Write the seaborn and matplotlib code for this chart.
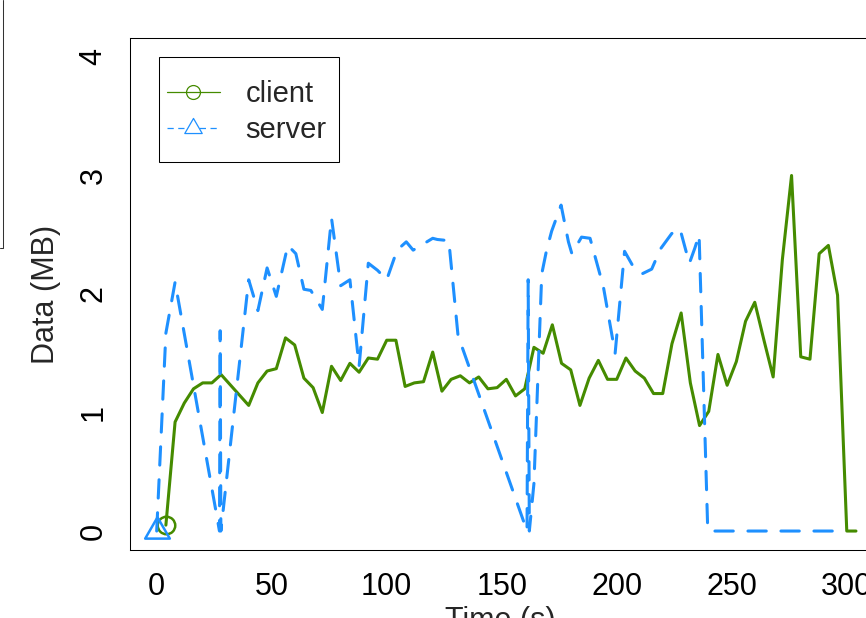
import matplotlib
matplotlib.use("Agg")
import matplotlib.pyplot as plt
from matplotlib.lines import Line2D
from matplotlib.patches import Rectangle
from matplotlib.path import Path
import pandas as pd
import seaborn as sns

# ---- data -------------------------------------------------------------
client_time = [4, 8, 12, 16, 20, 24, 28, 40, 44, 48, 52, 56, 60, 64, 68, 72,
               76, 80, 84, 88, 92, 96, 100, 104, 108, 112, 116, 120, 124, 128,
               132, 136, 140, 144, 148, 152, 156, 160, 164, 168, 172, 176, 180,
               184, 188, 192, 196, 200, 204, 208, 212, 216, 220, 224, 228, 232,
               236, 240, 244, 248, 252, 256, 260, 264, 268, 272, 276, 280, 284,
               288, 292, 296, 300, 304]
client_mb = [0.05, 0.92, 1.08, 1.20, 1.25, 1.25, 1.32, 1.06, 1.25, 1.35, 1.37,
             1.63, 1.57, 1.29, 1.21, 1.00, 1.39, 1.27, 1.415, 1.34, 1.46, 1.45,
             1.61, 1.61, 1.22, 1.25, 1.26, 1.51, 1.18, 1.28, 1.31, 1.25, 1.30,
             1.20, 1.21, 1.28, 1.14, 1.20, 1.55, 1.50, 1.74, 1.415, 1.36, 1.06,
             1.29, 1.44, 1.28, 1.28, 1.46, 1.35, 1.29, 1.16, 1.16, 1.58, 1.84,
             1.25, 0.89, 1.01, 1.49, 1.23, 1.43, 1.77, 1.93, 1.61, 1.30, 2.29,
             3.00, 1.47, 1.45, 2.34, 2.41, 1.99, 0.00, 0.00]

server_time = [0, 4, 8, 27.3, 27.6, 27.9, 40, 44, 48, 52, 57, 60.5, 64, 67, 72,
               76, 80, 84, 88, 92, 96, 100, 104.5, 108.5, 111.5, 120, 122, 127,
               131, 161, 161.5, 162, 164, 167.4, 169.5, 171.7, 175.8, 179,
               180.5, 184.7, 188.4, 194.2, 199.3, 203.4, 207.2, 211, 215.2, 219,
               223.9, 227.5, 230, 231.6, 234, 235.8, 239.5, 240, 300]
server_mb = [0.00, 1.67, 2.10, 0.00, 1.69, 0.00, 2.12, 1.86, 2.22, 1.98, 2.41,
             2.34, 2.04, 2.03, 1.87, 2.64, 2.07, 2.12, 1.39, 2.26, 2.20, 2.12,
             2.37, 2.44, 2.37, 2.47, 2.46, 2.45, 1.65, 0.00, 2.12, 0.00, 0.40,
             2.17, 2.37, 2.53, 2.75, 2.44, 2.34, 2.48, 2.47, 2.06, 1.50, 2.36,
             2.23, 2.17, 2.21, 2.38, 2.51, 2.55, 2.37, 2.26, 2.39, 2.50, 0.05,
             0.00, 0.00]

x_ticks = [0, 50, 100, 150, 200, 250, 300]
y_ticks = [0, 1, 2, 3, 4]
series_labels = ["client", "server"]
x_title = "Time (s)"
y_title = "Data (MB)"

CLIENT_COLOR = "#458B00"   # chartreuse4
SERVER_COLOR = "#1E90FF"   # dodgerblue

# ---- style ------------------------------------------------------------
sns.set_style("white")
plt.rcParams["font.family"] = ["Liberation Sans", "DejaVu Sans"]

W, H = 866, 618
fig = plt.figure(figsize=(W / 100, H / 100), dpi=100)
fig.patch.set_facecolor("white")


def fx(px):
    return px / W


def fy(py):
    return 1 - py / H


ax = fig.add_axes([fx(130), fy(550), 740 / W, 512 / H])

client = pd.DataFrame({"time": client_time, "mb": client_mb})
server = pd.DataFrame({"time": server_time, "mb": server_mb})

# triangle marker anchored at its centroid
tri = Path([(0, 1), (-0.866, -0.5), (0.866, -0.5), (0, 1)], closed=True)

sns.lineplot(data=client, x="time", y="mb", ax=ax, estimator=None, sort=False,
             color=CLIENT_COLOR, linewidth=2.2, solid_joinstyle="round",
             solid_capstyle="round", marker="o", markevery=[0], ms=12.6,
             mfc="none", mec=CLIENT_COLOR, mew=1.8)
sns.lineplot(data=server, x="time", y="mb", ax=ax, estimator=None, sort=False,
             color=SERVER_COLOR, linewidth=2.2, linestyle=(0, (6, 4.8)),
             dash_capstyle="round", dash_joinstyle="round",
             marker=tri, markevery=[0], ms=20.5, mfc="none",
             mec=SERVER_COLOR, mew=1.8)

ax.set_xlim(-11.6, 310.1)
ax.set_ylim(-0.16, 4.16)
ax.set_xticks(x_ticks)
ax.set_yticks(y_ticks)
ax.set_xticklabels([str(t) for t in x_ticks])
ax.set_yticklabels([str(t) for t in y_ticks], rotation=90, va="center")
ax.tick_params(axis="both", direction="out", length=8.4, width=0.75,
               color="black", labelsize=22, labelcolor="black")
ax.tick_params(axis="x", pad=7.4)
ax.tick_params(axis="y", pad=7.0)
ax.grid(False)
for sp in ax.spines.values():
    sp.set_visible(True)
    sp.set_color("black")
    sp.set_linewidth(0.75)

ax.set_xlabel(x_title, fontsize=22, va="top", ha="center")
ax.xaxis.set_label_coords((500 - 130) / 740, (550 - 606) / 512)
ax.set_ylabel(y_title, fontsize=22, va="center", ha="center")
ax.yaxis.set_label_coords((46 - 130) / 740, 0.5)

# ---- legend box -------------------------------------------------------
fig.add_artist(Rectangle((fx(159.3), fy(162.3)), (339.3 - 159.3) / W,
                         (162.3 - 57.3) / H, transform=fig.transFigure,
                         facecolor="white", edgecolor="black", lw=0.75,
                         zorder=5))
fig.add_artist(Line2D([fx(166.7), fx(220)], [fy(91.7), fy(91.7)],
                      transform=fig.transFigure, color=CLIENT_COLOR, lw=0.9,
                      zorder=6))
fig.add_artist(Line2D([fx(193.3)], [fy(91.7)], transform=fig.transFigure,
                      marker="o", ms=10, mfc="none", mec=CLIENT_COLOR,
                      mew=0.9, zorder=6))
fig.add_artist(Line2D([fx(166.7), fx(220)], [fy(127.7), fy(127.7)],
                      transform=fig.transFigure, color=SERVER_COLOR, lw=0.9,
                      linestyle=(0, (5, 3.6)), zorder=6))
fig.add_artist(Line2D([fx(193.3)], [fy(127.7)], transform=fig.transFigure,
                      marker=tri, ms=14.5, mfc="white", mec=SERVER_COLOR,
                      mew=0.9, zorder=6))
fig.text(fx(245.7), fy(101.7), series_labels[0], fontsize=21,
         va="baseline", ha="left", zorder=7)
fig.text(fx(245.7), fy(138.3), series_labels[1], fontsize=21,
         va="baseline", ha="left", zorder=7)

# edge of the neighbouring panel at the far left
fig.add_artist(Line2D([fx(0), fx(2.7), fx(2.7)], [fy(247.7), fy(247.7), fy(0)],
                      transform=fig.transFigure, color="#333333", lw=0.75))

fig.savefig("out.png", dpi=100)
